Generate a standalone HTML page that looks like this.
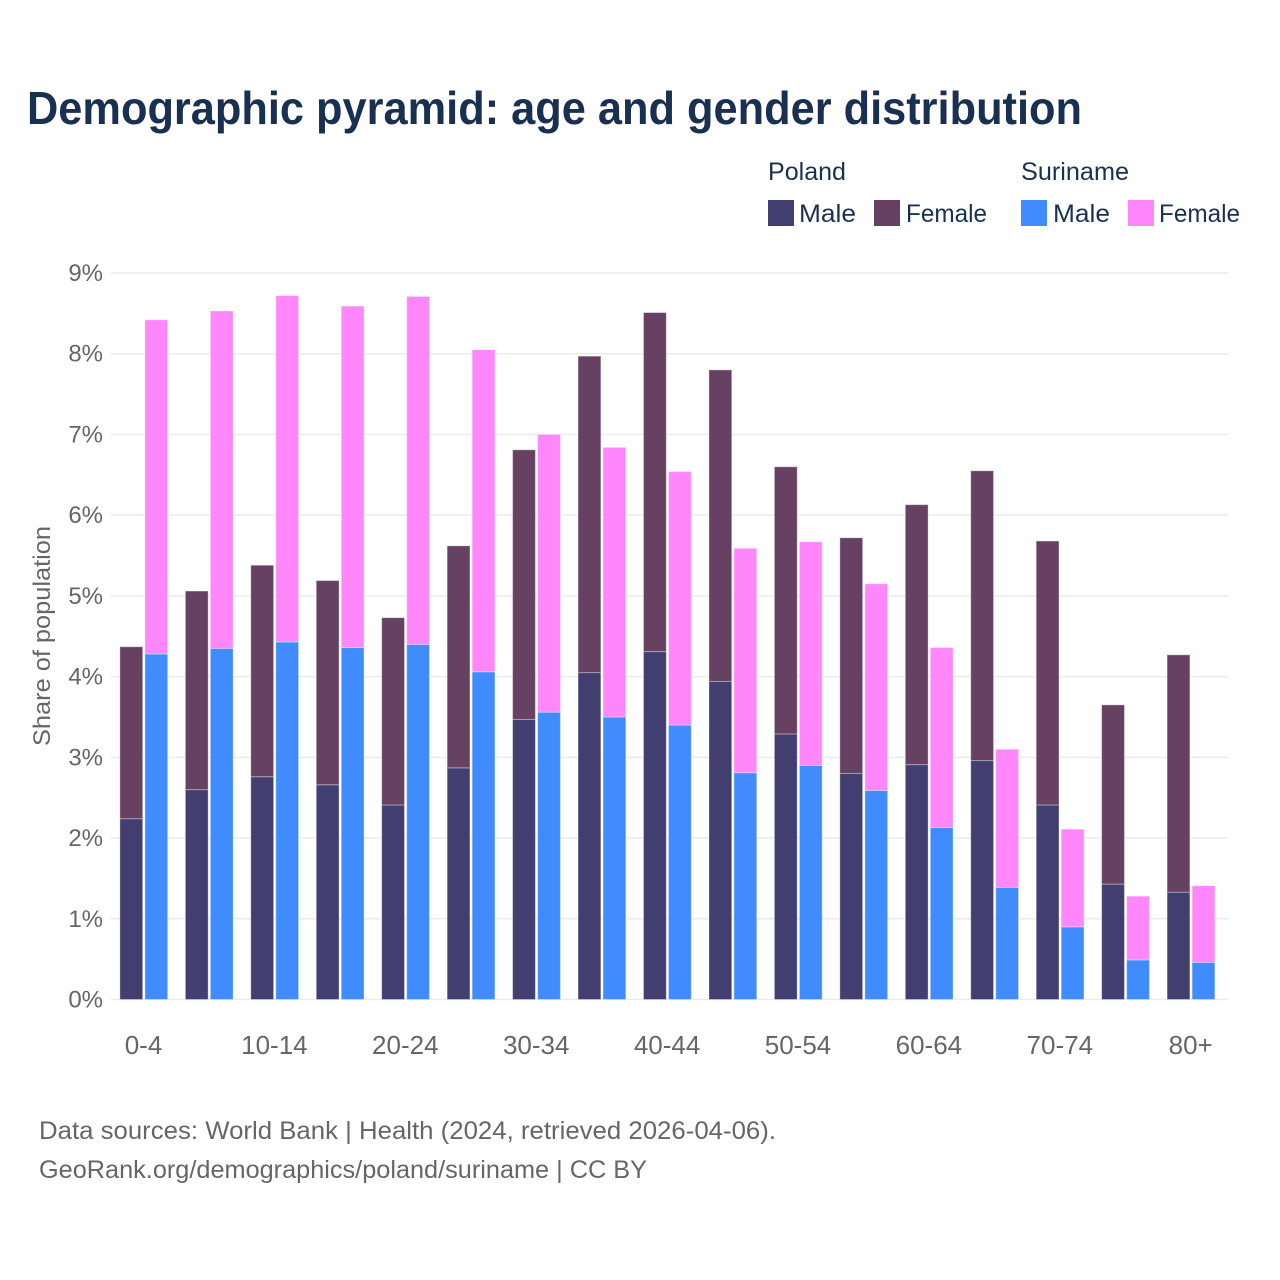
<!DOCTYPE html>
<html lang="en">
<head>
<meta charset="utf-8">
<title>Demographic pyramid: age and gender distribution</title>
<style>
html,body{margin:0;padding:0;background:#fff;}
svg{display:block;}
text{font-family:"Liberation Sans",sans-serif;}
</style>
</head>
<body>
<svg id="chart" xmlns="http://www.w3.org/2000/svg" width="1280" height="1280" viewBox="0 0 1280 1280">
  <rect x="0" y="0" width="1280" height="1280" fill="#ffffff"/>
  <text x="27" y="124" font-size="46" font-weight="700" fill="#1a3050" textLength="1055" lengthAdjust="spacingAndGlyphs">Demographic pyramid: age and gender distribution</text>

  <g>
    <text x="768" y="180" font-size="25" fill="#1a3050" textLength="78" lengthAdjust="spacingAndGlyphs">Poland</text>
    <text x="1021" y="180" font-size="25" fill="#1a3050" textLength="108" lengthAdjust="spacingAndGlyphs">Suriname</text>
    <rect x="768" y="200" width="26" height="26" fill="#423e70"/>
    <text x="799" y="222" font-size="25" fill="#1a3050" textLength="57" lengthAdjust="spacingAndGlyphs">Male</text>
    <rect x="874" y="200" width="26" height="26" fill="#674161"/>
    <text x="906" y="222" font-size="25" fill="#1a3050" textLength="81" lengthAdjust="spacingAndGlyphs">Female</text>
    <rect x="1021" y="200" width="26" height="26" fill="#408cff"/>
    <text x="1053" y="222" font-size="25" fill="#1a3050" textLength="57" lengthAdjust="spacingAndGlyphs">Male</text>
    <rect x="1128" y="200" width="26" height="26" fill="#ff87fa"/>
    <text x="1159" y="222" font-size="25" fill="#1a3050" textLength="81" lengthAdjust="spacingAndGlyphs">Female</text>
  </g>

  <text transform="translate(50,636) rotate(-90)" text-anchor="middle" font-size="24" fill="#666666" textLength="220" lengthAdjust="spacingAndGlyphs">Share of population</text>

  <g id="grid"></g>
  <g id="yticks"></g>
  <g id="bars"></g>
  <g id="xticks"></g>

  <text x="39" y="1139" font-size="25" fill="#666666" textLength="737" lengthAdjust="spacingAndGlyphs">Data sources: World Bank | Health (2024, retrieved 2026-04-06).</text>
  <text x="39" y="1178" font-size="25" fill="#666666" textLength="608" lengthAdjust="spacingAndGlyphs">GeoRank.org/demographics/poland/suriname | CC BY</text>
</svg>
<script>
const categories = ["0-4","5-9","10-14","15-19","20-24","25-29","30-34","35-39","40-44","45-49","50-54","55-59","60-64","65-69","70-74","75-79","80+"];
const xTickLabels = ["0-4","","10-14","","20-24","","30-34","","40-44","","50-54","","60-64","","70-74","","80+"];
const yTickValues = [0,1,2,3,4,5,6,7,8,9];
const polandMale = [2.24,2.60,2.76,2.66,2.41,2.87,3.47,4.05,4.31,3.94,3.29,2.80,2.91,2.96,2.41,1.43,1.33];
const polandFemale = [2.13,2.46,2.62,2.53,2.32,2.75,3.34,3.92,4.20,3.86,3.31,2.92,3.22,3.59,3.27,2.22,2.94];
const surinameMale = [4.28,4.35,4.43,4.36,4.40,4.06,3.56,3.50,3.40,2.81,2.90,2.59,2.13,1.39,0.90,0.49,0.46];
const surinameFemale = [4.14,4.18,4.29,4.23,4.31,3.99,3.44,3.34,3.14,2.78,2.77,2.56,2.23,1.71,1.21,0.79,0.95];

const NS = "http://www.w3.org/2000/svg";
const yScale = function (v) { return 999.5 - v * 80.72; };
const groupLeft = function (i) { return 111.5 + i * 65.45; };
const BAR_W = 22.8;
const plotLeft = 111;
const plotRight = 1228;

function make(tag, attrs, parent, content) {
  const el = document.createElementNS(NS, tag);
  Object.keys(attrs).forEach(function (k) { el.setAttribute(k, attrs[k]); });
  if (content !== undefined) el.textContent = content;
  parent.appendChild(el);
  return el;
}

const gridG = document.getElementById("grid");
const yTickG = document.getElementById("yticks");
yTickValues.forEach(function (v) {
  const line = make("line", {x1: plotLeft, x2: plotRight, y1: yScale(v), y2: yScale(v), stroke: "#ebebeb", "stroke-width": 1.5}, gridG);
  
  
  const label = make("text", {x: 103, y: yScale(v) + 8, "text-anchor": "end", "font-size": 24, fill: "#666666"}, yTickG, v + "%");
  
  
});

const barsG = document.getElementById("bars");
function drawBar(x, base, value, fill) {
  const top = yScale(base + value);
  const rect = make("rect", {x: x, y: top, width: BAR_W, height: yScale(base) - top, fill: fill, stroke: "#ffffff", "stroke-opacity": 0.35, "stroke-width": 1}, barsG);
  return rect;
}
categories.forEach(function (cat, i) {
  const x1 = groupLeft(i) + 8.4;
  const x2 = x1 + 25;
  const a = drawBar(x1, 0, polandMale[i], "#423e70");
  
  
  const b = drawBar(x1, polandMale[i], polandFemale[i], "#674161");
  
  
  const c = drawBar(x2, 0, surinameMale[i], "#408cff");
  
  
  const d = drawBar(x2, surinameMale[i], surinameFemale[i], "#ff87fa");
  
  
});

const xTickG = document.getElementById("xticks");
xTickLabels.forEach(function (lab, i) {
  if (!lab) return;
  const t = make("text", {x: groupLeft(i) + 32, y: 1054, "text-anchor": "middle", "font-size": 26, fill: "#666666"}, xTickG, lab);
  
  
});
</script>
</body>
</html>
